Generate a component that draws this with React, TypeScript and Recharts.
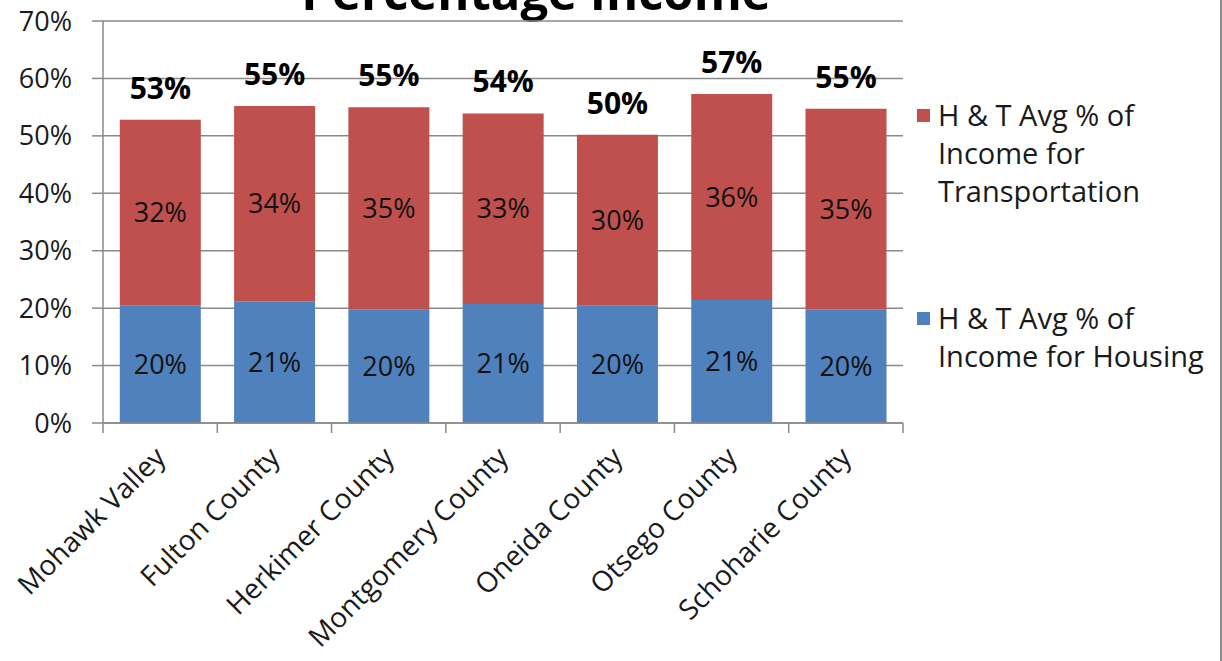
import {
  BarChart,
  Bar,
  XAxis,
  YAxis,
  CartesianGrid,
  Legend,
  LabelList,
} from "recharts";

const counties = [
  "Mohawk Valley",
  "Fulton County",
  "Herkimer County",
  "Montgomery County",
  "Oneida County",
  "Otsego County",
  "Schoharie County",
];

// share of income, percent
const housing = [20.4, 21.2, 19.7, 20.7, 20.4, 21.4, 19.7];
const transportation = [32.4, 34.0, 35.3, 33.2, 29.8, 35.9, 35.0];

const yTicks = [0, 10, 20, 30, 40, 50, 60, 70];

const HOUSING_NAME = "H & T Avg % of Income for Housing";
const TRANSPORT_NAME = "H & T Avg % of Income for Transportation";

const FONT = "'Open Sans', 'Noto Sans', sans-serif";
const AXIS_GRAY = "#8a8a8a";
const TEXT = "#1a1a1a";

const data = counties.map((name, i) => ({
  name,
  housing: housing[i],
  transportation: transportation[i],
  total: housing[i] + transportation[i],
}));

const pct = (v: any) => `${Math.round(Number(v))}%`;

// category label plus tick marks drawn on the band edges
const CountyTick = (props: any) => {
  const { x, y, payload, index, visibleTicksCount } = props;
  const half = payload.offset || 0;
  const top = y - 10;
  const last = index === visibleTicksCount - 1;
  const ax = x + 7;
  const ay = y + 26;

  return (
    <g>
      <line
        x1={x - half}
        x2={x - half}
        y1={top}
        y2={y}
        stroke={AXIS_GRAY}
        strokeWidth={1.5}
      />
      {last && (
        <line
          x1={x + half}
          x2={x + half}
          y1={top}
          y2={y}
          stroke={AXIS_GRAY}
          strokeWidth={1.5}
        />
      )}
      <text
        x={ax}
        y={ay}
        textAnchor="end"
        transform={`rotate(-45, ${ax}, ${ay})`}
        fontFamily={FONT}
        fontSize={28}
        fill={TEXT}
      >
        {payload.value}
      </text>
    </g>
  );
};

const legendRows = [
  {
    color: "#C0504D",
    lines: ["H & T Avg % of", "Income for", "Transportation"],
    top: 96,
  },
  {
    color: "#4F81BD",
    lines: ["H & T Avg % of", "Income for Housing"],
    top: 299,
  },
];

// zero-size box so the legend takes no room from the plot
const SideLegend = () => (
  <div style={{ position: "relative", width: 0, height: 0 }}>
    {legendRows.map((row) => (
      <div
        key={row.color}
        style={{
          position: "absolute",
          left: 0,
          top: row.top,
          fontFamily: FONT,
          fontSize: 29,
          lineHeight: "38px",
          color: TEXT,
          whiteSpace: "nowrap",
        }}
      >
        <span
          style={{
            position: "absolute",
            left: 0,
            top: 13,
            width: 13,
            height: 13,
            background: row.color,
          }}
        />
        <div style={{ paddingLeft: 21 }}>
          {row.lines.map((l) => (
            <div key={l}>{l}</div>
          ))}
        </div>
      </div>
    ))}
  </div>
);

export default function App() {
  return (
    <div
      style={{
        position: "absolute",
        left: 0,
        top: 0,
        width: 1222,
        height: 661,
        overflow: "hidden",
        background: "#fff",
        boxSizing: "border-box",
        borderRight: "2px solid #8c8c8c",
      }}
    >
      <svg
        width={1222}
        height={60}
        style={{ position: "absolute", left: 0, top: 0 }}
      >
        <text
          x={536}
          y={10}
          textAnchor="middle"
          fontFamily={FONT}
          fontWeight="bold"
          fontSize={49}
          fill="#000"
        >
          Percentage Income
        </text>
      </svg>

      <BarChart
        width={1222}
        height={661}
        data={data}
        margin={{ top: 21, right: 319, bottom: 0, left: 0 }}
        barCategoryGap="14.7%"
      >
        <CartesianGrid
          vertical={false}
          stroke={AXIS_GRAY}
          strokeWidth={1.5}
        />

        <XAxis
          dataKey="name"
          height={238}
          interval={0}
          tickLine={false}
          tickSize={10}
          tickMargin={0}
          axisLine={{ stroke: AXIS_GRAY, strokeWidth: 1.5 }}
          tick={<CountyTick />}
        />

        <YAxis
          width={103}
          domain={[0, 70]}
          ticks={yTicks}
          tickFormatter={(v) => `${v}%`}
          tickSize={11}
          tickMargin={20}
          axisLine={{ stroke: AXIS_GRAY, strokeWidth: 1.5 }}
          tickLine={{ stroke: AXIS_GRAY, strokeWidth: 1.5 }}
          tick={{
            fontFamily: FONT,
            fontSize: 27,
            fill: TEXT,
          }}
        />

        <Legend
          layout="vertical"
          align="right"
          verticalAlign="top"
          wrapperStyle={{ left: 917, top: 0, width: 0, height: 0 }}
          content={<SideLegend />}
        />

        <Bar
          dataKey="housing"
          name={HOUSING_NAME}
          stackId="ht"
          fill="#4F81BD"
          isAnimationActive={false}
        >
          <LabelList
            dataKey="housing"
            position="center"
            formatter={pct}
            style={{
              fontFamily: FONT,
              fontSize: 27,
              fill: "#111",
            }}
          />
        </Bar>

        <Bar
          dataKey="transportation"
          name={TRANSPORT_NAME}
          stackId="ht"
          fill="#C0504D"
          isAnimationActive={false}
        >
          <LabelList
            dataKey="transportation"
            position="center"
            formatter={pct}
            style={{
              fontFamily: FONT,
              fontSize: 27,
              fill: "#111",
            }}
          />
          <LabelList
            dataKey="total"
            position="top"
            offset={21}
            formatter={pct}
            style={{
              fontFamily: FONT,
              fontSize: 30,
              fontWeight: "bold",
              fill: "#000",
            }}
          />
        </Bar>
      </BarChart>
    </div>
  );
}
